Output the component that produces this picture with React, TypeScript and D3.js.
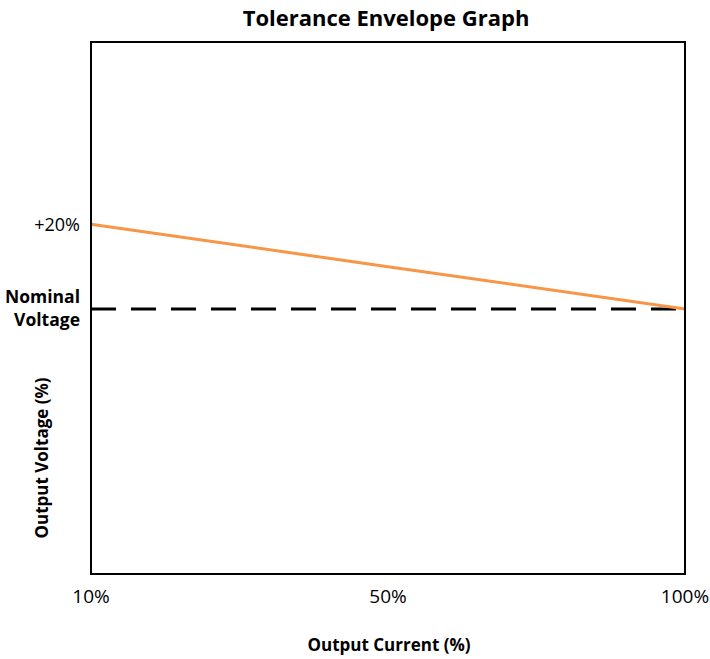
import React from 'react';
import * as d3 from 'd3';

const categories = ['10%', '50%', '100%'];
const upperLimit = [20, 10, 0];
const nominal = [0, 0, 0];
const yTicks = [{ value: 20, label: '+20%' }];
const nominalLabel = ['Nominal', 'Voltage'];

const width = 710;
const height = 659;
const margin = { top: 42, right: 25, bottom: 85, left: 91 };
const font = '"Open Sans", "Noto Sans", sans-serif';

export default function App() {
  const x = d3
    .scalePoint<string>()
    .domain(categories)
    .range([margin.left, width - margin.right]);

  const y = d3
    .scaleLinear()
    .domain([-62.5, 63])
    .range([height - margin.bottom, margin.top]);

  const line = d3
    .line<number>()
    .x((_, i) => x(categories[i]) as number)
    .y((d) => y(d));

  const plotW = width - margin.left - margin.right;
  const plotH = height - margin.top - margin.bottom;
  const cx = margin.left + plotW / 2;

  return (
    <svg
      width={width}
      height={height}
      style={{ position: 'absolute', left: 0, top: 0, display: 'block', background: '#fff' }}
      fontFamily={font}
    >
      <text x={cx - 2} y={26} textAnchor="middle" fontSize={22} fontWeight="bold" fill="#000">
        Tolerance Envelope Graph
      </text>

      <path
        d={line(nominal) ?? ''}
        fill="none"
        stroke="#000"
        strokeWidth={3}
        strokeDasharray="25,15"
      />
      <path d={line(upperLimit) ?? ''} fill="none" stroke="#F79646" strokeWidth={3} />

      <rect
        x={margin.left}
        y={margin.top}
        width={plotW}
        height={plotH}
        fill="none"
        stroke="#000"
        strokeWidth={2}
      />

      {yTicks.map((t) => (
        <text
          key={t.value}
          x={80}
          y={y(t.value)}
          dy="0.35em"
          textAnchor="end"
          fontSize={18}
          fill="#000"
        >
          {t.label}
        </text>
      ))}

      {nominalLabel.map((s, i) => (
        <text
          key={s}
          x={80}
          y={y(0) - 12 + i * 23}
          dy="0.35em"
          textAnchor="end"
          fontSize={17.5}
          fontWeight="bold"
          fill="#000"
        >
          {s}
        </text>
      ))}

      {categories.map((c) => (
        <text
          key={c}
          x={x(c)}
          y={596}
          dy="0.35em"
          textAnchor="middle"
          fontSize={19}
          fill="#000"
        >
          {c}
        </text>
      ))}

      <text x={cx + 1} y={645} dy="0.35em" textAnchor="middle" fontSize={17} fontWeight="bold" fill="#000">
        Output Current (%)
      </text>

      <text
        transform={`translate(42,458) rotate(-90)`}
        dy="0.35em"
        textAnchor="middle"
        fontSize={17}
        fontWeight="bold"
        fill="#000"
      >
        Output Voltage (%)
      </text>
    </svg>
  );
}
